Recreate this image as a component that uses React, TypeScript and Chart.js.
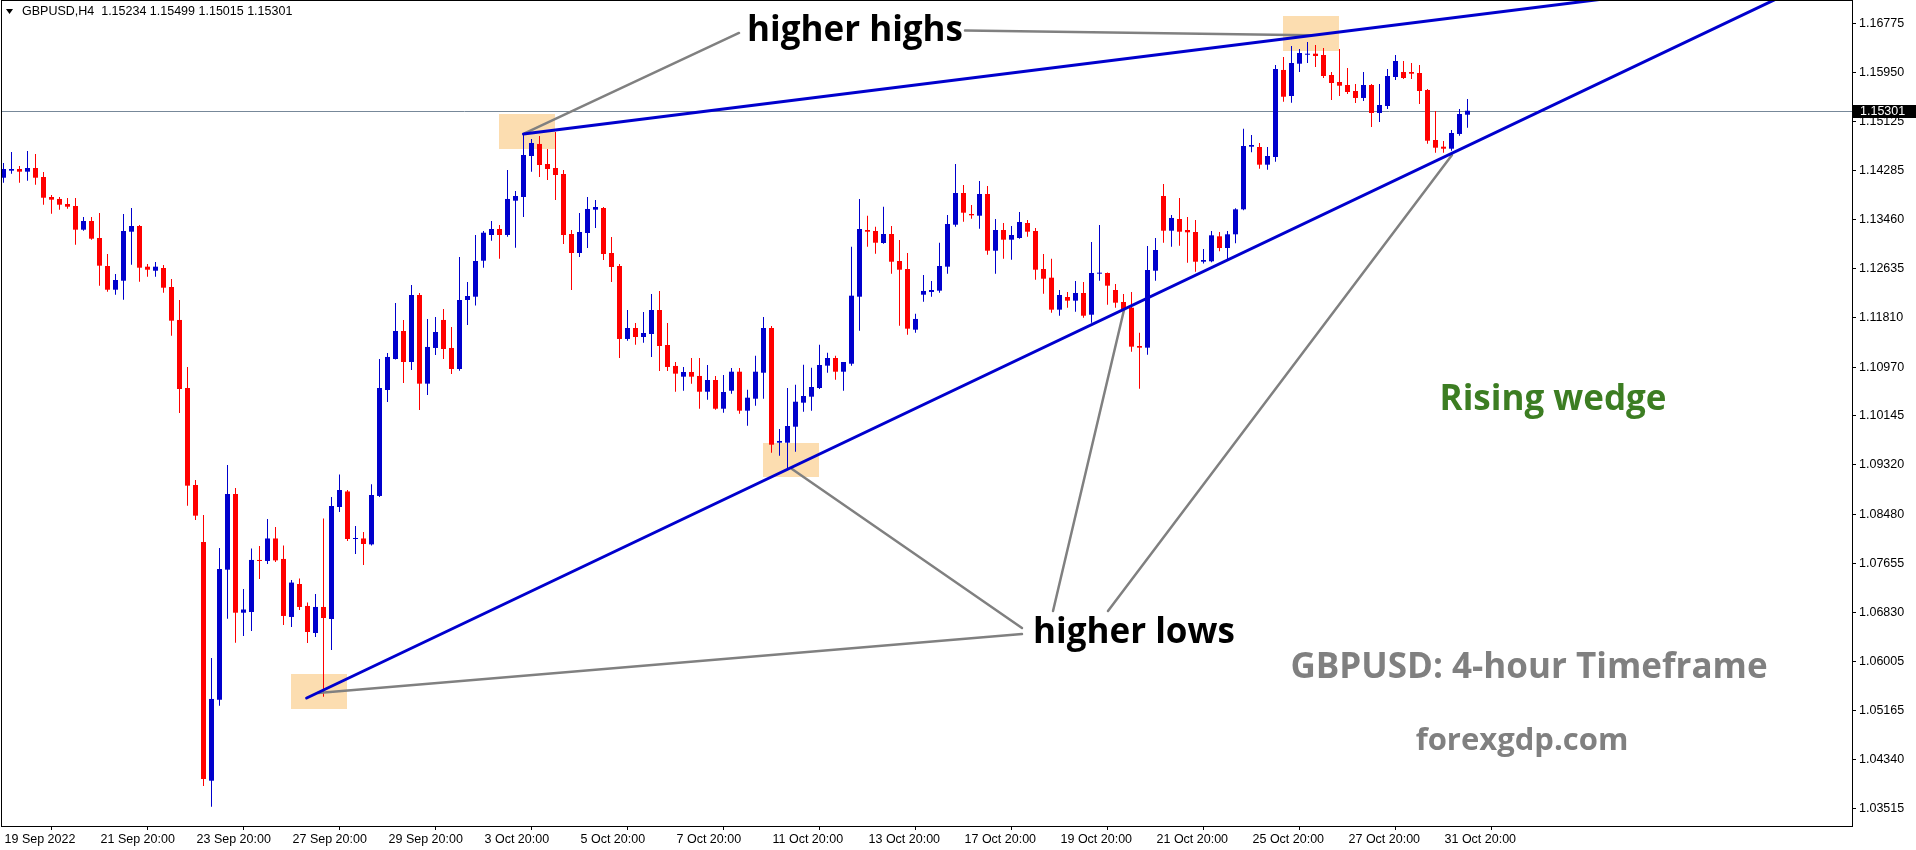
import React, { useEffect, useRef } from 'react';
import { Chart, registerables } from 'chart.js';

Chart.register(...registerables);

// ---- candle data (GBPUSD H4, 19 Sep 2022 20:00 -> 1 Nov 2022 08:00) ----
const opens = [
  1.14170, 1.14289, 1.14317, 1.14272, 1.14334, 1.14182, 1.13844, 1.13811, 1.13726, 1.13692,
  1.13292, 1.13439, 1.13152, 1.12679, 1.12278, 1.12430, 1.13258, 1.13354, 1.12667, 1.12599,
  1.12645, 1.12324, 1.11767, 1.10618, 1.08979, 1.08017, 1.03984, 1.05353, 1.07549, 1.08827,
  1.06822, 1.06834, 1.07713, 1.07696, 1.08076, 1.07730, 1.06750, 1.07307, 1.06936, 1.06479,
  1.06919, 1.06716, 1.08608, 1.08870, 1.08067, 1.08076, 1.07976, 1.08794, 1.10584, 1.11108,
  1.11581, 1.11057, 1.12189, 1.10691, 1.11294, 1.11767, 1.11294, 1.10939, 1.12104, 1.12160,
  1.12768, 1.13202, 1.13304, 1.13202, 1.13782, 1.13844, 1.14537, 1.14740, 1.14402, 1.14334,
  1.14233, 1.13219, 1.12898, 1.13236, 1.13630, 1.13658, 1.12898, 1.12679, 1.11446, 1.11631,
  1.11479, 1.11530, 1.11935, 1.11344, 1.10990, 1.10809, 1.10888, 1.10821, 1.10555, 1.10753,
  1.10268, 1.10572, 1.10893, 1.10235, 1.10437, 1.10876, 1.11631, 1.09694, 1.09694, 1.09964,
  1.10370, 1.10471, 1.10618, 1.10995, 1.11125, 1.10893, 1.11028, 1.12160, 1.13287, 1.13270,
  1.13067, 1.13219, 1.12763, 1.12628, 1.11603, 1.12194, 1.12240, 1.12262, 1.12667, 1.13376,
  1.13912, 1.13557, 1.13528, 1.13895, 1.12937, 1.13287, 1.13123, 1.13152, 1.13405, 1.13270,
  1.12628, 1.12481, 1.11941, 1.12155, 1.12093, 1.12223, 1.11856, 1.12549, 1.12560, 1.12273,
  1.12071, 1.11974, 1.11327, 1.11299, 1.12599, 1.13861, 1.13275, 1.13473, 1.13287, 1.13253,
  1.12751, 1.12758, 1.13180, 1.12983, 1.13214, 1.13636, 1.14694, 1.14689, 1.14390, 1.14520,
  1.15990, 1.15550, 1.16096, 1.16248, 1.16265, 1.16243, 1.15905, 1.15787, 1.15736, 1.15635,
  1.15517, 1.15736, 1.15263, 1.15381, 1.15871, 1.15956, 1.15956, 1.15939, 1.15652, 1.14807,
  1.14694, 1.14660, 1.14909, 1.15234,
];

const highs = [
  1.14419, 1.14604, 1.14368, 1.14621, 1.14571, 1.14267, 1.13878, 1.13844, 1.13827, 1.13827,
  1.13506, 1.13506, 1.13574, 1.12881, 1.12544, 1.13557, 1.13658, 1.13371, 1.12713, 1.12746,
  1.12696, 1.12459, 1.12104, 1.10973, 1.09064, 1.08473, 1.06057, 1.07915, 1.09317, 1.08929,
  1.07223, 1.07907, 1.07949, 1.08405, 1.08270, 1.07957, 1.07375, 1.07400, 1.06993, 1.07138,
  1.08413, 1.08777, 1.09158, 1.08895, 1.08287, 1.08185, 1.08990, 1.11108, 1.11209, 1.12054,
  1.11767, 1.12358, 1.12223, 1.11784, 1.11817, 1.11952, 1.11648, 1.12831, 1.12409, 1.13202,
  1.13270, 1.13439, 1.13371, 1.14300, 1.13946, 1.14909, 1.14824, 1.14875, 1.14655, 1.14942,
  1.14300, 1.13287, 1.13574, 1.13844, 1.13794, 1.13675, 1.13169, 1.12713, 1.11935, 1.11716,
  1.11902, 1.12206, 1.12257, 1.11716, 1.11057, 1.10973, 1.11125, 1.11125, 1.11006, 1.10821,
  1.10837, 1.10956, 1.10956, 1.10589, 1.11164, 1.11817, 1.11665, 1.09925, 1.10618, 1.10674,
  1.11011, 1.10961, 1.11349, 1.11214, 1.11164, 1.11057, 1.13005, 1.13811, 1.13528, 1.13343,
  1.13680, 1.13354, 1.13118, 1.12898, 1.11873, 1.12527, 1.12425, 1.13072, 1.13540, 1.14402,
  1.14047, 1.13709, 1.14115, 1.14030, 1.13473, 1.13405, 1.13354, 1.13591, 1.13456, 1.13321,
  1.12881, 1.12802, 1.12273, 1.12240, 1.12425, 1.12409, 1.13084, 1.13371, 1.12570, 1.12375,
  1.12206, 1.12240, 1.11552, 1.13017, 1.13152, 1.14064, 1.13540, 1.13827, 1.13506, 1.13456,
  1.12966, 1.13270, 1.13253, 1.13270, 1.13653, 1.14998, 1.14892, 1.14756, 1.14689, 1.16074,
  1.16209, 1.16395, 1.16345, 1.16463, 1.16412, 1.16361, 1.15956, 1.16345, 1.16023, 1.15753,
  1.15956, 1.15753, 1.15753, 1.16006, 1.16243, 1.16142, 1.16108, 1.16074, 1.15670, 1.15297,
  1.14790, 1.14976, 1.15331, 1.15499,
];

const lows = [
  1.14086, 1.14238, 1.14086, 1.14120, 1.14052, 1.13714, 1.13562, 1.13630, 1.13647, 1.13039,
  1.13275, 1.13123, 1.12346, 1.12245, 1.12194, 1.12109, 1.12701, 1.12414, 1.12498, 1.12498,
  1.12228, 1.11501, 1.10196, 1.08630, 1.08388, 1.03895, 1.03545, 1.05251, 1.06721, 1.06316,
  1.06429, 1.06513, 1.07392, 1.07645, 1.07679, 1.06615, 1.06581, 1.06868, 1.06310, 1.06412,
  1.05403, 1.06192, 1.08523, 1.08033, 1.07814, 1.07628, 1.07956, 1.08777, 1.10381, 1.11098,
  1.10702, 1.10922, 1.10246, 1.10500, 1.11175, 1.11108, 1.10854, 1.10910, 1.11682, 1.12010,
  1.12650, 1.13106, 1.12802, 1.13174, 1.12988, 1.13506, 1.14272, 1.14182, 1.14131, 1.13794,
  1.13050, 1.12273, 1.12831, 1.12983, 1.13321, 1.12780, 1.12409, 1.11125, 1.11417, 1.11349,
  1.11383, 1.11142, 1.10905, 1.10905, 1.10555, 1.10572, 1.10691, 1.10268, 1.10420, 1.10251,
  1.10201, 1.10522, 1.10184, 1.09981, 1.10319, 1.10437, 1.09525, 1.09474, 1.09233, 1.09542,
  1.10218, 1.10235, 1.10601, 1.10876, 1.10758, 1.10572, 1.10995, 1.11586, 1.13005, 1.12887,
  1.13055, 1.12549, 1.11670, 1.11518, 1.11552, 1.12076, 1.12160, 1.12228, 1.12549, 1.13343,
  1.13427, 1.13478, 1.13309, 1.12870, 1.12549, 1.12802, 1.12785, 1.13140, 1.13174, 1.12447,
  1.12211, 1.11890, 1.11839, 1.11974, 1.11907, 1.11805, 1.11721, 1.12430, 1.12025, 1.11974,
  1.11897, 1.11231, 1.10606, 1.11180, 1.12430, 1.13072, 1.13005, 1.13022, 1.12734, 1.12582,
  1.12721, 1.12741, 1.12927, 1.12797, 1.13062, 1.13620, 1.14599, 1.14322, 1.14305, 1.14441,
  1.15454, 1.15437, 1.15956, 1.16108, 1.16040, 1.15854, 1.15483, 1.15550, 1.15584, 1.15432,
  1.15466, 1.15027, 1.15111, 1.15331, 1.15821, 1.15838, 1.15838, 1.15415, 1.14745, 1.14593,
  1.14593, 1.14626, 1.14880, 1.15015,
];

const closes = [
  1.14317, 1.14317, 1.14272, 1.14334, 1.14170, 1.13832, 1.13799, 1.13714, 1.13680, 1.13292,
  1.13439, 1.13140, 1.12684, 1.12278, 1.12442, 1.13270, 1.13354, 1.12650, 1.12616, 1.12667,
  1.12312, 1.11755, 1.10601, 1.08968, 1.08461, 1.04013, 1.05365, 1.07561, 1.08827, 1.06822,
  1.06876, 1.07713, 1.07696, 1.08076, 1.07706, 1.06767, 1.07331, 1.06919, 1.06496, 1.06919,
  1.06733, 1.08625, 1.08895, 1.08067, 1.08076, 1.07983, 1.08810, 1.10618, 1.11142, 1.11581,
  1.11057, 1.12189, 1.10691, 1.11311, 1.11564, 1.11277, 1.10939, 1.12104, 1.12172, 1.12763,
  1.13241, 1.13304, 1.13202, 1.13811, 1.13861, 1.14554, 1.14756, 1.14385, 1.14317, 1.14216,
  1.13202, 1.12898, 1.13253, 1.13642, 1.13675, 1.12881, 1.12662, 1.11446, 1.11631, 1.11479,
  1.11547, 1.11935, 1.11327, 1.10973, 1.10860, 1.10888, 1.10809, 1.10555, 1.10753, 1.10268,
  1.10550, 1.10893, 1.10235, 1.10454, 1.10893, 1.11631, 1.09660, 1.09723, 1.09976, 1.10386,
  1.10483, 1.10635, 1.11006, 1.11125, 1.10893, 1.11057, 1.12177, 1.13304, 1.13258, 1.13072,
  1.13219, 1.12751, 1.12616, 1.11620, 1.11784, 1.12257, 1.12273, 1.12679, 1.13388, 1.13912,
  1.13579, 1.13535, 1.13895, 1.12937, 1.13287, 1.13123, 1.13202, 1.13422, 1.13258, 1.12616,
  1.12464, 1.11941, 1.12189, 1.12093, 1.12223, 1.11839, 1.12560, 1.12560, 1.12346, 1.12059,
  1.11952, 1.11316, 1.11299, 1.12611, 1.12949, 1.13275, 1.13490, 1.13258, 1.13248, 1.12751,
  1.12780, 1.13197, 1.12983, 1.13214, 1.13636, 1.14706, 1.14723, 1.14390, 1.14537, 1.16006,
  1.15538, 1.16108, 1.16277, 1.16260, 1.16226, 1.15888, 1.15770, 1.15724, 1.15618, 1.15517,
  1.15736, 1.15263, 1.15398, 1.15888, 1.16142, 1.15854, 1.15927, 1.15635, 1.14795, 1.14677,
  1.14660, 1.14925, 1.15246, 1.15301,
];

// ---- axis labels ----
const xTickCandles = [0, 12, 24, 36, 48, 60, 72, 84, 96, 108, 120, 132, 144, 156, 168, 180];
const xTickLabels = [
  '19 Sep 2022', '21 Sep 20:00', '23 Sep 20:00', '27 Sep 20:00', '29 Sep 20:00', '3 Oct 20:00',
  '5 Oct 20:00', '7 Oct 20:00', '11 Oct 20:00', '13 Oct 20:00', '17 Oct 20:00', '19 Oct 20:00',
  '21 Oct 20:00', '25 Oct 20:00', '27 Oct 20:00', '31 Oct 20:00',
];
const yTickValues = [
  1.16775, 1.15950, 1.15125, 1.14285, 1.13460, 1.12635, 1.11810, 1.10970, 1.10145,
  1.09320, 1.08480, 1.07655, 1.06830, 1.06005, 1.05165, 1.04340, 1.03515,
];
const yMin = 1.03219;
const yMax = 1.17155;
const xMin = -0.1875;
const xMax = 231.0625;

const headerSymbol = 'GBPUSD,H4';
const bidPrice = 1.15301;

// ---- annotations, anchored in (candle index, price) ----
const upperTrend = [[65, 1.14909], [196.56, 1.17131]];
const lowerTrend = [[37.9, 1.05381], [220.69, 1.17131]];
const highlightBoxes = [
  [35.94, 42.94, 1.05780, 1.05191],
  [61.94, 68.94, 1.15246, 1.14660],
  [94.94, 101.94, 1.09689, 1.09115],
  [159.94, 166.94, 1.16902, 1.16316],
];
const pointerLines = [
  [91.94, 1.16615, 65.19, 1.14925],
  [120.19, 1.16657, 163.31, 1.16576],
  [127.31, 1.06462, 39.31, 1.05466],
  [127.31, 1.06564, 98.56, 1.09250],
  [131.19, 1.06851, 140.06, 1.11935],
  [138.06, 1.06851, 181.06, 1.14554],
];
const noteTexts = ['higher highs', 'higher lows', 'Rising wedge', 'GBPUSD: 4-hour Timeframe', 'forexgdp.com'];
const noteAnchors = [
  [106.44, 1.16648],
  [141.31, 1.06479],
  [193.69, 1.10415],
  [190.69, 1.05888],
  [189.81, 1.04655],
];

const BULL = '#0000CD';
const BEAR = '#FF0000';
const AXIS_FONT = '"Liberation Sans", Arial, sans-serif';

export default function App() {
  const canvasRef = useRef<HTMLCanvasElement | null>(null);

  useEffect(() => {
    const canvas = canvasRef.current;
    if (!canvas) return;

    const idx = opens.map((_, i) => i);
    const colors = idx.map((i) => (closes[i] >= opens[i] ? BULL : BEAR));

    const overlay = {
      id: 'overlay',
      beforeDatasetsDraw(chart: any) {
        const { ctx, chartArea: a } = chart;
        const x = chart.scales.x;
        const y = chart.scales.y;
        ctx.save();
        ctx.beginPath();
        ctx.rect(a.left, a.top, a.right - a.left, a.bottom - a.top);
        ctx.clip();
        ctx.fillStyle = '#FCDDB0';
        for (const b of highlightBoxes) {
          const x1 = Math.round(x.getPixelForValue(b[0]));
          const x2 = Math.round(x.getPixelForValue(b[1]));
          const y1 = Math.round(y.getPixelForValue(b[2]));
          const y2 = Math.round(y.getPixelForValue(b[3]));
          ctx.fillRect(x1, y1, x2 - x1, y2 - y1);
        }
        const by = Math.round(y.getPixelForValue(bidPrice)) + 0.5;
        ctx.strokeStyle = '#778899';
        ctx.lineWidth = 1;
        ctx.beginPath();
        ctx.moveTo(a.left, by);
        ctx.lineTo(a.right, by);
        ctx.stroke();
        ctx.restore();
      },
      afterDatasetsDraw(chart: any) {
        const { ctx, chartArea: a } = chart;
        const x = chart.scales.x;
        const y = chart.scales.y;
        ctx.save();
        ctx.beginPath();
        ctx.rect(a.left, a.top, a.right - a.left, a.bottom - a.top);
        ctx.clip();
        ctx.lineCap = 'round';
        ctx.strokeStyle = '#808080';
        ctx.lineWidth = 2.5;
        for (const l of pointerLines) {
          ctx.beginPath();
          ctx.moveTo(x.getPixelForValue(l[0]), y.getPixelForValue(l[1]));
          ctx.lineTo(x.getPixelForValue(l[2]), y.getPixelForValue(l[3]));
          ctx.stroke();
        }
        ctx.strokeStyle = BULL;
        ctx.lineWidth = 3;
        for (const t of [upperTrend, lowerTrend]) {
          const slope = (t[1][1] - t[0][1]) / (t[1][0] - t[0][0]);
          const farIdx = 300;
          const farPrice = t[0][1] + slope * (farIdx - t[0][0]);
          ctx.beginPath();
          ctx.moveTo(x.getPixelForValue(t[0][0]), y.getPixelForValue(t[0][1]));
          ctx.lineTo(x.getPixelForValue(farIdx), y.getPixelForValue(farPrice));
          ctx.stroke();
        }
        ctx.restore();

        ctx.save();
        ctx.textAlign = 'center';
        ctx.textBaseline = 'middle';
        const noteColors = ['#000000', '#000000', '#3C7D22', '#808080', '#808080'];
        const noteSizes = [35, 35, 35, 35, 31];
        noteTexts.forEach((t, k) => {
          ctx.fillStyle = noteColors[k];
          ctx.font = `700 ${noteSizes[k]}px "Open Sans", sans-serif`;
          ctx.fillText(t, x.getPixelForValue(noteAnchors[k][0]), y.getPixelForValue(noteAnchors[k][1]));
        });
        ctx.restore();

        const last = opens.length - 1;
        ctx.save();
        ctx.fillStyle = '#000000';
        ctx.beginPath();
        ctx.moveTo(a.left + 4, a.top + 8);
        ctx.lineTo(a.left + 11, a.top + 8);
        ctx.lineTo(a.left + 7.5, a.top + 13);
        ctx.closePath();
        ctx.fill();
        ctx.font = `12.5px ${AXIS_FONT}`;
        ctx.textBaseline = 'middle';
        ctx.textAlign = 'left';
        const hdr = `${headerSymbol}  ${opens[last].toFixed(5)} ${highs[last].toFixed(5)} ${lows[last].toFixed(5)} ${closes[last].toFixed(5)}`;
        ctx.fillText(hdr, a.left + 20, a.top + 11);
        ctx.restore();
      },
      afterDraw(chart: any) {
        const { ctx, chartArea: a } = chart;
        const y = chart.scales.y;
        ctx.save();
        ctx.strokeStyle = '#000000';
        ctx.lineWidth = 1;
        ctx.strokeRect(a.left - 0.5, a.top - 0.5, a.right - a.left + 1, a.bottom - a.top + 1);
        const py = Math.round(y.getPixelForValue(bidPrice));
        ctx.fillStyle = '#000000';
        ctx.fillRect(a.right + 1, py - 6, chart.width - a.right - 1, 13);
        ctx.fillStyle = '#FFFFFF';
        ctx.font = `12.5px ${AXIS_FONT}`;
        ctx.textBaseline = 'middle';
        ctx.textAlign = 'left';
        ctx.fillText(bidPrice.toFixed(5), a.right + 8, py + 0.5);
        ctx.restore();
      },
    };

    const chart = new Chart(canvas, {
      type: 'bar',
      data: {
        datasets: [
          {
            label: 'body',
            data: idx.map((i) => ({ x: i, y: [opens[i], closes[i]] })) as any,
            backgroundColor: colors,
            barThickness: 5,
            minBarLength: 1,
            grouped: false,
            inflateAmount: 0,
            borderWidth: 0,
          } as any,
          {
            label: 'wick',
            data: idx.map((i) => ({ x: i, y: [lows[i], highs[i]] })) as any,
            backgroundColor: colors,
            barThickness: 1,
            minBarLength: 1,
            grouped: false,
            inflateAmount: 0,
            borderWidth: 0,
          } as any,
        ],
      },
      options: {
        responsive: false,
        animation: false,
        devicePixelRatio: 1,
        events: [],
        layout: { padding: { left: 2, top: 1, right: 0, bottom: 0 } },
        plugins: { legend: { display: false }, tooltip: { enabled: false } },
        scales: {
          x: {
            type: 'linear',
            min: xMin,
            max: xMax,
            offset: false,
            afterBuildTicks: (s: any) => {
              s.ticks = xTickCandles.map((v) => ({ value: v }));
            },
            afterFit: (s: any) => {
              s.height = 24;
              s.paddingLeft = 0;
              s.paddingRight = 0;
              s.paddingTop = 0;
              s.paddingBottom = 0;
            },
            grid: { drawOnChartArea: false, drawTicks: true, tickLength: 4, color: '#000000' },
            border: { display: true, color: '#000000' },
            ticks: {
              autoSkip: false,
              maxRotation: 0,
              minRotation: 0,
              align: 'start',
              padding: 2,
              labelOffset: 1,
              color: '#000000',
              font: { family: AXIS_FONT, size: 12.5 },
              callback: (v: any) => {
                const k = xTickCandles.indexOf(Number(v));
                return k >= 0 ? xTickLabels[k] : '';
              },
            },
          } as any,
          y: {
            type: 'linear',
            position: 'right',
            min: yMin,
            max: yMax,
            afterBuildTicks: (s: any) => {
              s.ticks = yTickValues.map((v) => ({ value: v }));
            },
            afterFit: (s: any) => {
              s.width = 64;
              s.paddingTop = 0;
              s.paddingBottom = 0;
              s.paddingLeft = 0;
              s.paddingRight = 0;
            },
            grid: { drawOnChartArea: false, drawTicks: true, tickLength: 4, color: '#000000' },
            border: { display: true, color: '#000000' },
            ticks: {
              padding: 3,
              color: '#000000',
              font: { family: AXIS_FONT, size: 12.5 },
              callback: (v: any) => Number(v).toFixed(5),
            },
          } as any,
        },
      },
      plugins: [overlay],
    });

    return () => chart.destroy();
  }, []);

  return (
    <div style={{ position: 'fixed', left: 0, top: 0, width: 1916, height: 850, background: '#FFFFFF' }}>
      <canvas ref={canvasRef} width={1916} height={850} style={{ display: 'block', width: 1916, height: 850 }} />
    </div>
  );
}
